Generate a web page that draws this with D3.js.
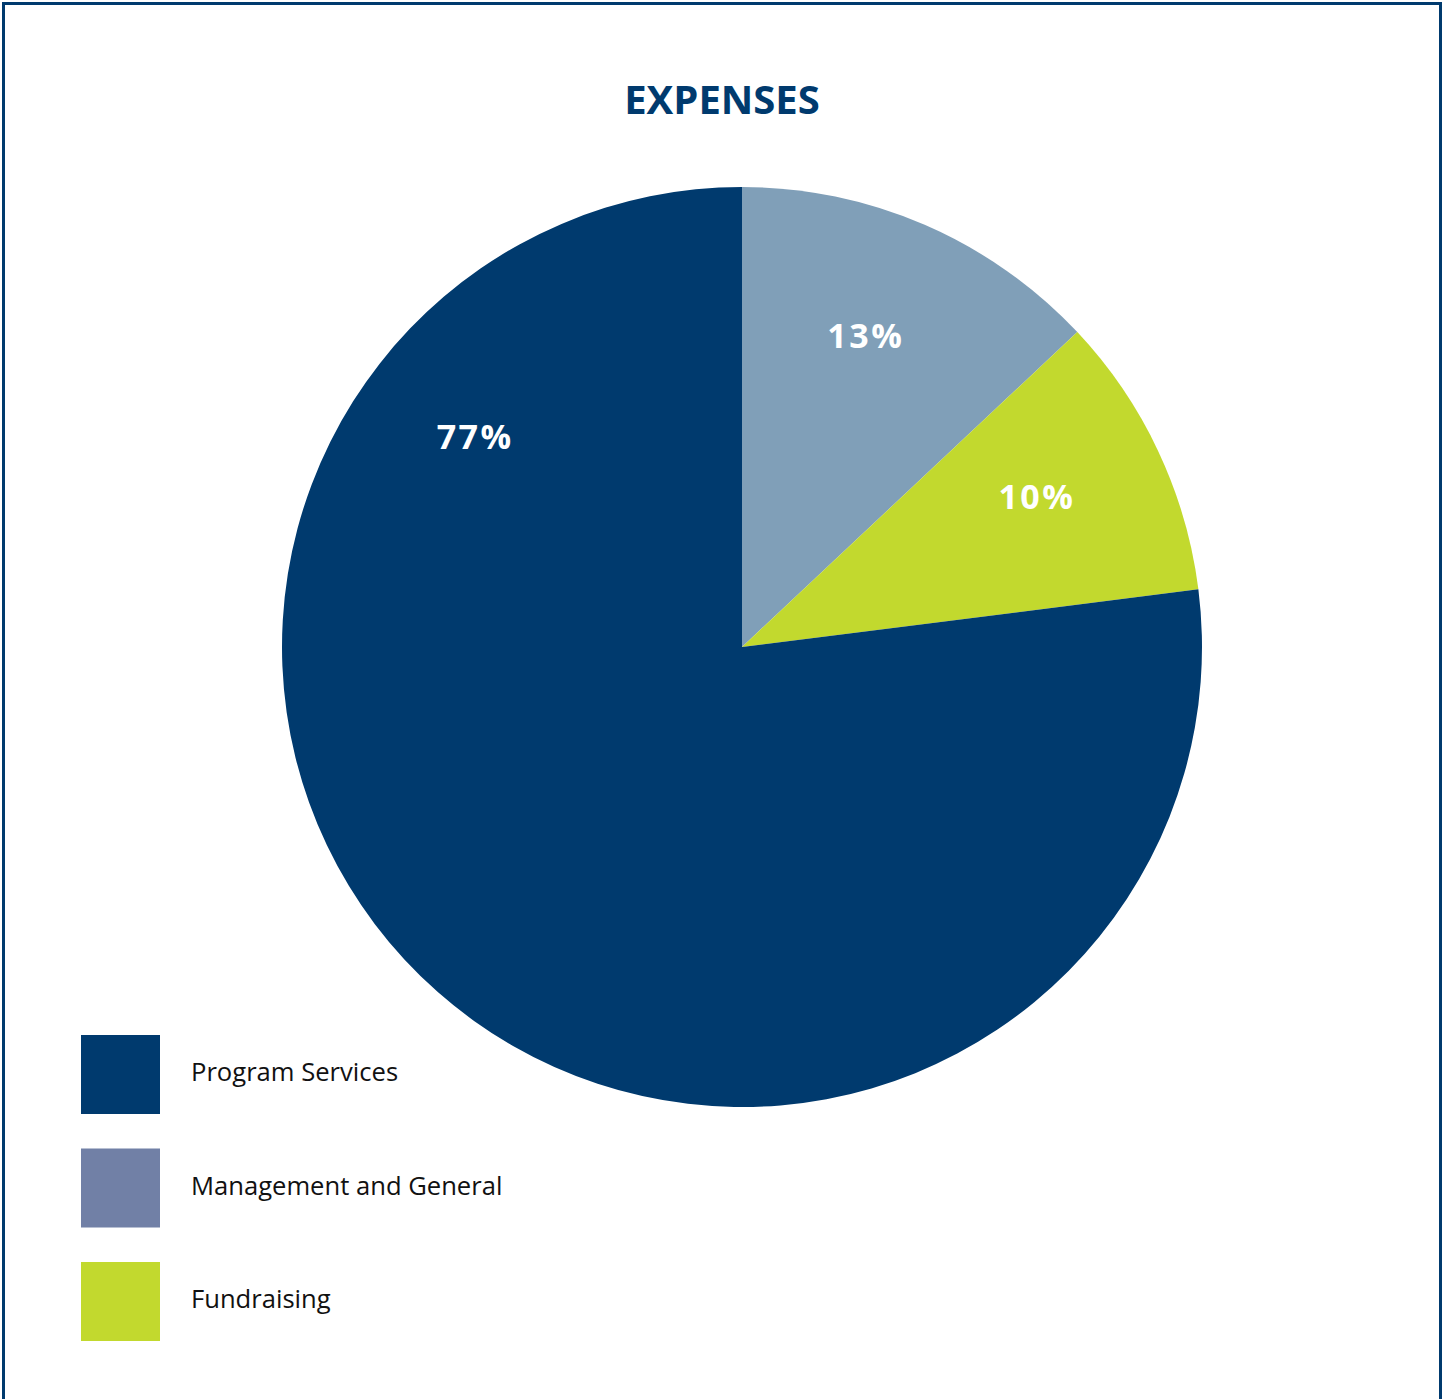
<!DOCTYPE html>
<html>
<head>
<meta charset="utf-8">
<script src="https://cdn.jsdelivr.net/npm/d3@7"></script>
<style>
  html, body { margin: 0; padding: 0; background: #ffffff; }
  svg { display: block; }
</style>
</head>
<body>
<svg id="chart" width="1442" height="1399"></svg>
<script>
// ---- data ----
const title = "EXPENSES";
const sliceCategories = ["Management and General", "Fundraising", "Program Services"];
const sliceValues = [13, 10, 77];
const sliceLabels = ["13%", "10%", "77%"];
const legendCategories = ["Program Services", "Management and General", "Fundraising"];

// ---- styles / layout ----
const sliceColors = {
  "Management and General": "#809fb8",
  "Fundraising": "#c2d92e",
  "Program Services": "#003a6e"
};
const legendColors = {
  "Program Services": "#003a6e",
  "Management and General": "#7180a6",
  "Fundraising": "#c2d92e"
};
// label anchor: [angle in degrees clockwise from top, radius]
const labelAnchors = [[21.7, 335], [63.0, 331], [308.3, 340]];

const W = 1442, H = 1399;
const cx = 742, cy = 647, R = 460;
const font = "'Open Sans', 'Noto Sans', sans-serif";
const dark = "#003a6e";

const svg = d3.select("#chart");

// border
svg.append("rect")
  .attr("x", 3.5).attr("y", 3.5)
  .attr("width", W - 5).attr("height", H + 10)
  .attr("fill", "none").attr("stroke", dark).attr("stroke-width", 3);

// title
svg.append("text")
  .attr("x", 722).attr("y", 114)
  .attr("text-anchor", "middle")
  .attr("font-family", font).attr("font-weight", 700).attr("font-size", 40)
  .attr("fill", dark)
  .text(title);

// pie
const data = sliceCategories.map((c, i) => ({ cat: c, value: sliceValues[i], label: sliceLabels[i], i }));
const pie = d3.pie().sort(null).value(d => d.value);
const arc = d3.arc().innerRadius(0).outerRadius(R);
const g = svg.append("g").attr("transform", `translate(${cx},${cy})`);
const arcs = pie(data);

g.selectAll("path.slice").data(arcs).join("path")
  .attr("class", "slice")
  .attr("d", arc)
  .attr("fill", d => sliceColors[d.data.cat]);

g.selectAll("text.lbl").data(arcs).join("text")
  .attr("class", "lbl")
  .attr("x", d => { const [a, r] = labelAnchors[d.data.i]; return r * Math.sin(a * Math.PI / 180); })
  .attr("y", d => { const [a, r] = labelAnchors[d.data.i]; return -r * Math.cos(a * Math.PI / 180); })
  .attr("dy", "0.36em")
  .attr("text-anchor", "middle")
  .attr("font-family", font).attr("font-weight", 700).attr("font-size", 34)
  .attr("letter-spacing", 2.5)
  .attr("fill", "#ffffff")
  .text(d => d.data.label);

// legend
const legendY = d3.scalePoint().domain(legendCategories).range([1035, 1262]);
const lg = svg.append("g");
const items = lg.selectAll("g.item").data(legendCategories).join("g")
  .attr("class", "item")
  .attr("transform", d => `translate(81,${legendY(d)})`);
items.append("rect")
  .attr("width", 79).attr("height", 79)
  .attr("fill", d => legendColors[d]);
items.append("text")
  .attr("x", 110).attr("y", 46)
  .attr("font-family", font).attr("font-size", 25.6)
  .attr("fill", "#111111")
  .text(d => d);
</script>
</body>
</html>
